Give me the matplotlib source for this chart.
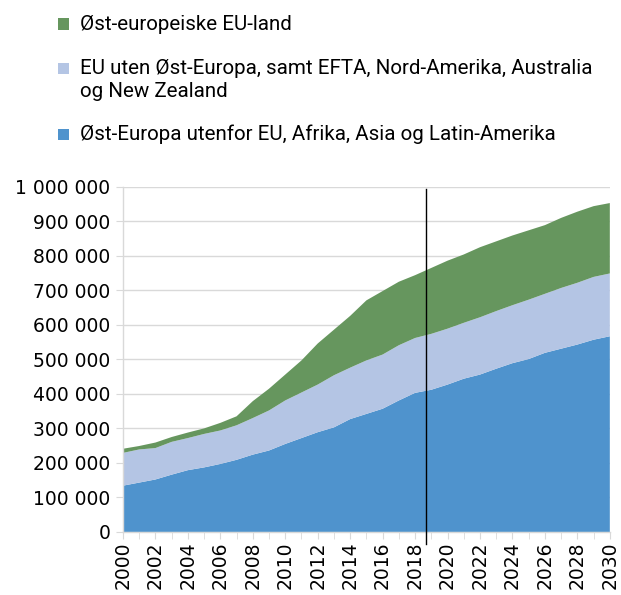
import matplotlib
matplotlib.use("Agg")
import matplotlib.pyplot as plt
import matplotlib.patches as mpatches
import matplotlib.transforms as mtransforms
from matplotlib.ticker import FuncFormatter, MultipleLocator
import numpy as np

years = list(range(2000, 2031))

# Top of each stacked layer
blue_top = [134000, 143000, 152000, 166000, 179000, 187000, 197000, 209000, 224000, 236000,
            255000, 272000, 289000, 303000, 327000, 342000, 357000, 381000, 403000, 412000,
            427000, 444000, 456000, 473000, 489000, 501000, 519000, 531000, 543000, 557000, 567000]
light_top = [229000, 239000, 243000, 261000, 272000, 284000, 294000, 309000, 330000, 352000,
             381000, 404000, 427000, 454000, 476000, 497000, 514000, 541000, 562000, 574000,
             589000, 606000, 622000, 640000, 657000, 673000, 690000, 707000, 722000, 739000, 749000]
green_top = [241000, 249000, 259000, 275000, 288000, 300000, 316000, 335000, 379000, 415000,
             456000, 497000, 546000, 586000, 626000, 671000, 698000, 725000, 744000, 765000,
             786000, 804000, 825000, 842000, 859000, 874000, 889000, 910000, 928000, 944000, 953000]

blue_vals = np.array(blue_top)
light_vals = np.array(light_top) - np.array(blue_top)
green_vals = np.array(green_top) - np.array(light_top)

labels = ["Øst-europeiske EU-land",
          "EU uten Øst-Europa, samt EFTA, Nord-Amerika, Australia\nog New Zealand",
          "Øst-Europa utenfor EU, Afrika, Asia og Latin-Amerika"]
colors = ["#66965e", "#b4c5e4", "#4f93cd"]
marker_year = 2018.67

W, H = 621, 595
fig = plt.figure(figsize=(W / 100, H / 100), dpi=100)
ax = fig.add_axes([0.198, 0.106, 0.784, 0.580])

ax.stackplot(years, blue_vals, light_vals, green_vals,
             colors=[colors[2], colors[1], colors[0]], linewidth=0)

ax.set_xlim(2000, 2030)
ax.set_ylim(0, 1000000)
ax.yaxis.set_major_locator(MultipleLocator(100000))
ax.yaxis.set_major_formatter(FuncFormatter(lambda v, p: f"{int(v):,}".replace(",", " ")))
ax.xaxis.set_major_locator(MultipleLocator(2))
ax.xaxis.set_minor_locator(MultipleLocator(1))
ax.xaxis.set_major_formatter(FuncFormatter(lambda v, p: f"{int(round(v))}"))

ax.grid(axis="y", color="#d9d9d9", linewidth=1)
ax.set_axisbelow(True)
for s in ["top", "right"]:
    ax.spines[s].set_visible(False)
for s in ["left", "bottom"]:
    ax.spines[s].set_color("#d9d9d9")
    ax.spines[s].set_linewidth(1)

ax.tick_params(axis="y", which="major", length=5, color="#d9d9d9", labelsize=13.5, pad=4)
ax.tick_params(axis="x", which="both", length=5, color="#d9d9d9", direction="out")
ax.tick_params(axis="x", which="major", labelsize=13.5, labelrotation=90, pad=2)

trans = mtransforms.blended_transform_factory(ax.transData, ax.transAxes)
ax.plot([marker_year, marker_year], [-0.035, 0.995], transform=trans,
        color="black", linewidth=1, clip_on=False, zorder=5)

# Legend drawn manually (handle aligned with first text line, as in the reference)
baselines_px = [29.5, 74.0, 140.0]
sq = 11
for lab, col, base in zip(labels, colors, baselines_px):
    fig.patches.append(mpatches.Rectangle((57.5 / W, 1 - base / H), sq / W, sq / H,
                                          transform=fig.transFigure, color=col,
                                          linewidth=0))
    fig.text(80 / W, 1 - base / H, lab.split("\n")[0], family="Roboto", fontsize=14.8,
             va="baseline", ha="left")
    if "\n" in lab:
        fig.text(80 / W, 1 - (base + 22.7) / H, lab.split("\n")[1], family="Roboto",
                 fontsize=14.8, va="baseline", ha="left")

fig.savefig("out.png", dpi=100)
